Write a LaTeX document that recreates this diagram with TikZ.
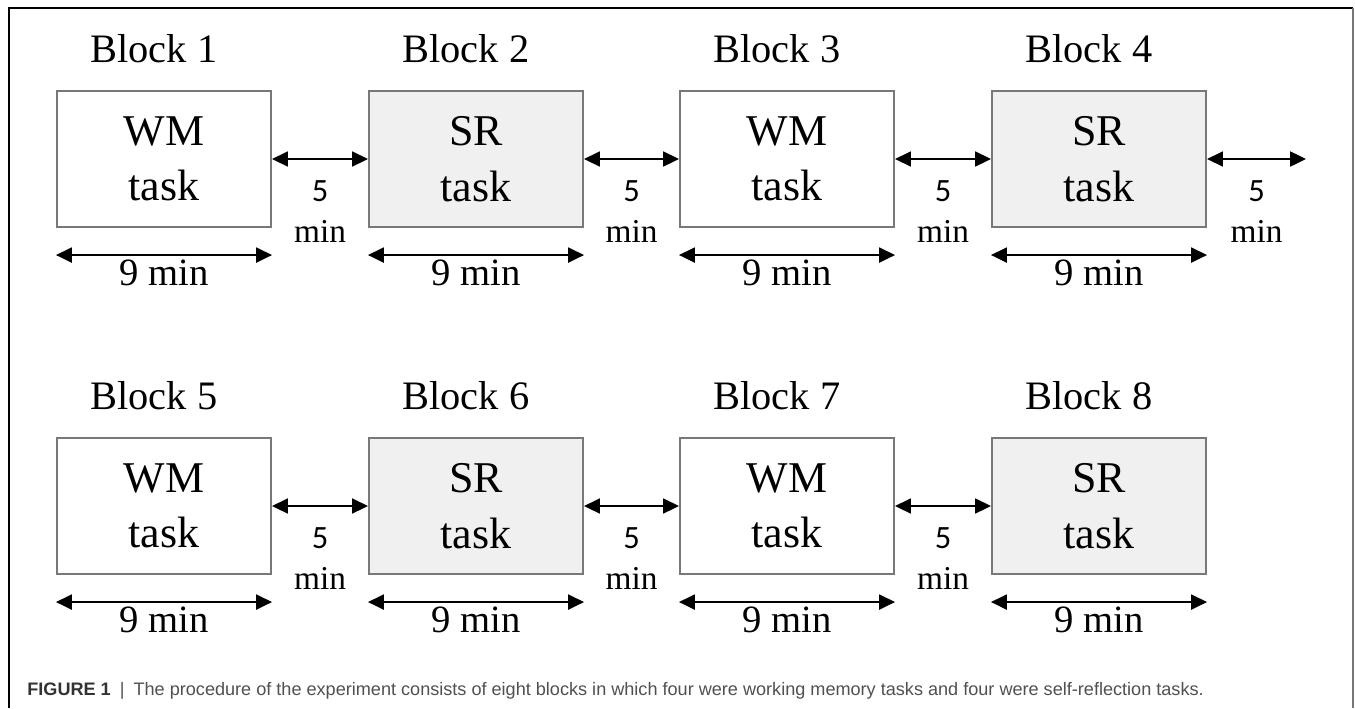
\documentclass[tikz,border=0pt]{standalone}
\usepackage{fontspec}
\setmainfont{Liberation Serif}
\newfontfamily\capfont{Liberation Sans}
\newfontfamily\numfont{Carlito}
\usetikzlibrary{arrows.meta}
\usetikzlibrary{positioning}
\usetikzlibrary{calc}

\definecolor{boxgray}{RGB}{120,120,120}
\definecolor{srgray}{RGB}{240,240,240}
\definecolor{capgray}{RGB}{80,80,80}

\tikzset{
  task/.style={draw=boxgray, line width=1.2pt, minimum width=4.28cm, minimum height=2.72cm,
    inner sep=0pt, align=center, font=\fontsize{25}{31.5}\selectfont},
  wm/.style={task, fill=white},
  sr/.style={task, fill=srgray},
  blocklabel/.style={anchor=base, inner sep=0pt, font=\fontsize{23}{28}\selectfont},
  span/.style={line width=1.1pt, {Triangle[length=9pt,width=8.5pt]}-{Triangle[length=9pt,width=8.5pt]}},
  gaplabel/.style={anchor=north, inner sep=0pt, align=center, font=\fontsize{19}{23}\selectfont},
  ninelabel/.style={anchor=base, inner sep=0pt, font=\fontsize{22}{26}\selectfont}
}

\newcommand{\five}{{\numfont\fontsize{18.5}{23}\selectfont 5}}

\begin{document}
\begin{tikzpicture}[x=0.02cm, y=-0.02cm]

\pgfmathsetmacro{\ya}{159};
\pgfmathsetmacro{\yb}{506};

\useasboundingbox (0,0) rectangle (1355,708);

% frame
\draw[line width=1.2pt] (9,708) -- (9,8) -- (1353,8);
\draw[line width=1pt, color=boxgray] (1353,8) -- (1353,708);

% blocks
\node[wm] (b1) at (164,\ya) {WM\\task};
\node[sr] (b2) at (476,\ya) {SR\\task};
\node[wm] (b3) at (787,\ya) {WM\\task};
\node[sr] (b4) at (1099,\ya) {SR\\task};
\node[wm] (b5) at (164,\yb) {WM\\task};
\node[sr] (b6) at (476,\yb) {SR\\task};
\node[wm] (b7) at (787,\yb) {WM\\task};
\node[sr] (b8) at (1099,\yb) {SR\\task};

\node[blocklabel] (l1) at ([xshift=-0.2cm, yshift=0.54cm]b1.north) {Block 1};
\node[blocklabel] (l2) at ([xshift=-0.2cm, yshift=0.54cm]b2.north) {Block 2};
\node[blocklabel] (l3) at ([xshift=-0.2cm, yshift=0.54cm]b3.north) {Block 3};
\node[blocklabel] (l4) at ([xshift=-0.2cm, yshift=0.54cm]b4.north) {Block 4};
\node[blocklabel] (l5) at ([xshift=-0.2cm, yshift=0.54cm]b5.north) {Block 5};
\node[blocklabel] (l6) at ([xshift=-0.2cm, yshift=0.54cm]b6.north) {Block 6};
\node[blocklabel] (l7) at ([xshift=-0.2cm, yshift=0.54cm]b7.north) {Block 7};
\node[blocklabel] (l8) at ([xshift=-0.2cm, yshift=0.54cm]b8.north) {Block 8};

% breaks
\coordinate[right=1.98cm of b4.east] (e4);
\draw[span] (b1.east) -- (b2.west) node[midway, below=0.42cm, gaplabel] {\five\\min};
\draw[span] (b2.east) -- (b3.west) node[midway, below=0.42cm, gaplabel] {\five\\min};
\draw[span] (b3.east) -- (b4.west) node[midway, below=0.42cm, gaplabel] {\five\\min};
\draw[span] (b4.east) -- (e4) node[midway, below=0.42cm, gaplabel] {\five\\min};
\draw[span] (b5.east) -- (b6.west) node[midway, below=0.42cm, gaplabel] {\five\\min};
\draw[span] (b6.east) -- (b7.west) node[midway, below=0.42cm, gaplabel] {\five\\min};
\draw[span] (b7.east) -- (b8.west) node[midway, below=0.42cm, gaplabel] {\five\\min};

% durations
\draw[span] ([yshift=-0.54cm]b1.south west) -- ([yshift=-0.54cm]b1.south east) node[midway, ninelabel, yshift=-0.6cm] {9 min};
\draw[span] ([yshift=-0.54cm]b2.south west) -- ([yshift=-0.54cm]b2.south east) node[midway, ninelabel, yshift=-0.6cm] {9 min};
\draw[span] ([yshift=-0.54cm]b3.south west) -- ([yshift=-0.54cm]b3.south east) node[midway, ninelabel, yshift=-0.6cm] {9 min};
\draw[span] ([yshift=-0.54cm]b4.south west) -- ([yshift=-0.54cm]b4.south east) node[midway, ninelabel, yshift=-0.6cm] {9 min};
\draw[span] ([yshift=-0.54cm]b5.south west) -- ([yshift=-0.54cm]b5.south east) node[midway, ninelabel, yshift=-0.6cm] {9 min};
\draw[span] ([yshift=-0.54cm]b6.south west) -- ([yshift=-0.54cm]b6.south east) node[midway, ninelabel, yshift=-0.6cm] {9 min};
\draw[span] ([yshift=-0.54cm]b7.south west) -- ([yshift=-0.54cm]b7.south east) node[midway, ninelabel, yshift=-0.6cm] {9 min};
\draw[span] ([yshift=-0.54cm]b8.south west) -- ([yshift=-0.54cm]b8.south east) node[midway, ninelabel, yshift=-0.6cm] {9 min};

% caption
\node[anchor=base west, inner sep=0pt, text=capgray, font=\capfont\fontsize{10.3}{12}\selectfont] (cap) at (27,695)
  {\textbf{\color{black!80}FIGURE 1}\enspace|\enspace The procedure of the experiment consists of eight blocks in which four were working memory tasks and four were self-reflection tasks.};
\end{tikzpicture}
\end{document}
